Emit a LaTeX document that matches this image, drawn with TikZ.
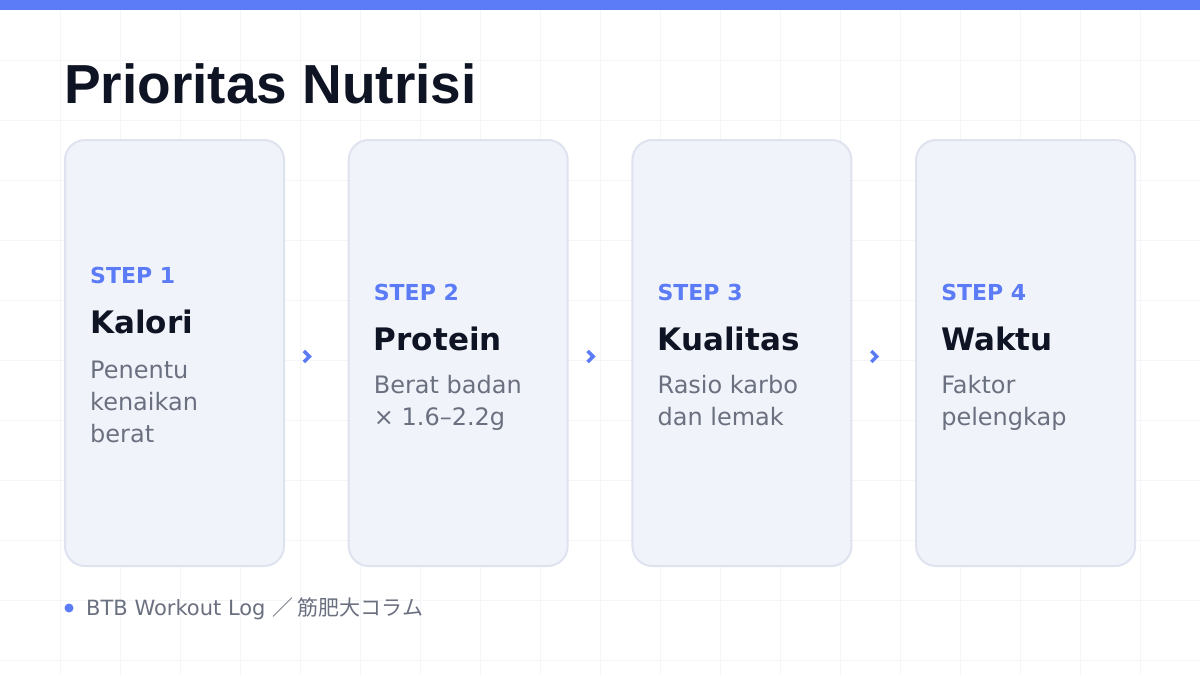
\documentclass[tikz,border=0pt]{standalone}
\usepackage{fontspec}
\setmainfont{DejaVu Sans}
\newfontfamily\titlefont{Liberation Sans}
\newfontfamily\jpfont{Noto Sans CJK JP}
\usetikzlibrary{positioning}
\definecolor{accent}{HTML}{5B7CF6}
\definecolor{ink}{HTML}{0F1424}
\definecolor{muted}{HTML}{6B7080}
\definecolor{cardfill}{HTML}{F1F3FA}
\definecolor{cardline}{HTML}{DEE3EF}
\definecolor{gridline}{HTML}{F4F5F8}
\begin{document}
\begin{tikzpicture}[x=1pt,y=-1pt,
  card/.style={draw=cardline, line width=2pt, fill=cardfill, rounded corners=20pt, minimum width=219pt, minimum height=426pt, inner sep=0pt},
  steplbl/.style={anchor=base west, inner sep=0pt, text=accent, font=\bfseries\fontsize{22}{26}\selectfont},
  headlbl/.style={anchor=base west, inner sep=0pt, text=ink, font=\bfseries\fontsize{31}{38}\selectfont},
  desclbl/.style={anchor=base west, inner sep=0pt, text=muted, align=left, font=\fontsize{24}{32}\selectfont},
  chev/.style={pos=0.5, xshift=-9pt, yshift=-3.5pt},
  chevline/.style={draw=accent, line width=3.5pt, line join=miter}]
\useasboundingbox (0,0) rectangle (1200,675);
\fill[white] (0,0) rectangle (1200,675);
\foreach \gx in {60,120,...,1140} \draw[gridline, line width=1pt] (\gx,10) -- (\gx,675);
\foreach \gy in {60,120,...,660} \draw[gridline, line width=1pt] (0,\gy) -- (1200,\gy);
\fill[accent] (0,0) rectangle (1200,10);
\node[anchor=base west, inner sep=0pt, text=ink, font=\titlefont\bfseries\fontsize{55}{60}\selectfont] (title) at (64,103) {Prioritas Nutrisi};

\node[card] (c1) at (174.5,353) {};
\node[card] (c2) at (458.2,353) {};
\node[card] (c3) at (741.9,353) {};
\node[card] (c4) at (1025.6,353) {};

\node[steplbl] (s1) at (90,283) {STEP 1};
\node[headlbl] (h1) at (90,333) {Kalori};
\node[desclbl] (d1) at (90,442) {Penentu\\kenaikan\\berat};

\node[steplbl] (s2) at (373.7,300) {STEP 2};
\node[headlbl] (h2) at (373.7,350) {Protein};
\node[desclbl] (d2) at (373.7,425) {Berat badan\\× 1.6–2.2g};

\node[steplbl] (s3) at (657.4,300) {STEP 3};
\node[headlbl] (h3) at (657.4,350) {Kualitas};
\node[desclbl] (d3) at (657.4,425) {Rasio karbo\\dan lemak};

\node[steplbl] (s4) at (941.1,300) {STEP 4};
\node[headlbl] (h4) at (941.1,350) {Waktu};
\node[desclbl] (d4) at (941.1,425) {Faktor\\pelengkap};

\path (c1) -- coordinate[chev] (a1) (c2);
\path (c2) -- coordinate[chev] (a2) (c3);
\path (c3) -- coordinate[chev] (a3) (c4);
\draw[chevline] (a1) ++(-3.5,-5.5) -- ++(5.5,5.5) -- ++(-5.5,5.5);
\draw[chevline] (a2) ++(-3.5,-5.5) -- ++(5.5,5.5) -- ++(-5.5,5.5);
\draw[chevline] (a3) ++(-3.5,-5.5) -- ++(5.5,5.5) -- ++(-5.5,5.5);

\fill[accent] (69,608) circle (4.5);
\node[anchor=base west, inner sep=0pt, text=muted, font=\fontsize{21}{24}\selectfont] (foot) at (86,615) {BTB Workout Log {\jpfont ／ 筋肥大コラム}};
\end{tikzpicture}
\end{document}
